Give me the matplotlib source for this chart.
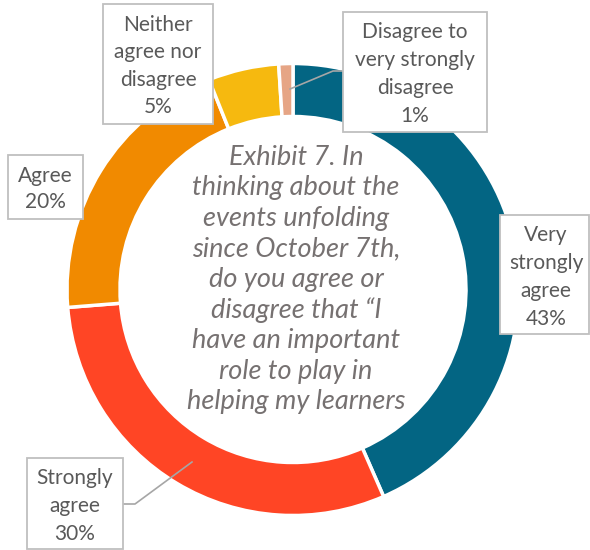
import matplotlib
matplotlib.use("Agg")
import matplotlib.pyplot as plt
from matplotlib.patches import Rectangle

plt.rcParams['font.family'] = ['Lato', 'DejaVu Sans']

# ---- data ----
categories = ["Very strongly agree", "Strongly agree", "Agree",
              "Neither agree nor disagree", "Disagree to very strongly disagree"]
values = [43, 30, 20, 5, 1]
label_wraps = [["Very", "strongly", "agree"],
               ["Strongly", "agree"],
               ["Agree"],
               ["Neither", "agree nor", "disagree"],
               ["Disagree to", "very strongly", "disagree"]]
colors = ["#036583", "#FF4525", "#F18A00", "#F6B90F", "#E6A585"]
center_lines = ["Exhibit 7. In", "thinking about the", "events unfolding",
                "since October 7th,", "do you agree or", "disagree that \u201cI",
                "have an important", "role to play in", "helping my learners"]

W, H = 590, 550
fig = plt.figure(figsize=(W / 100, H / 100), dpi=100)
ax = fig.add_axes([0, 0, 1, 1])

def Y(p):
    return H - p

cx, cy = 293, 289.5
R, ring = 226, 53
ax.pie(values, colors=colors, startangle=90, counterclock=False,
       center=(cx, Y(cy)), radius=R,
       wedgeprops=dict(width=ring, edgecolor="white", linewidth=2.5))
ax.set_xlim(0, W)
ax.set_ylim(0, H)
ax.axis("off")

text_color = "#595959"
box_color = "#BFBFBF"
line_color = "#A6A6A6"

# label layout: (text center x, text center y, line spacing, box x0, y0, x1, y1)
layout = [
    (546, 277, 27.7, 500, 215, 589, 334),
    (75, 506, 27.5, 27, 458, 123, 549),
    (45, 189, 26.0, 8, 155, 83, 219),
    (158, 66, 27.3, 103, 4, 213, 124),
    (415, 74, 27.7, 343, 12, 487, 132),
]

# leader lines
ax.plot([192, 135, 123], [Y(462), Y(504), Y(504)], color=line_color, lw=1.2, zorder=3)
ax.plot([290, 333, 343], [Y(89), Y(71), Y(71)], color=line_color, lw=1.2, zorder=3)

for i, (tx, ty, sp, x0, y0, x1, y1) in enumerate(layout):
    ax.add_patch(Rectangle((x0, Y(y1)), x1 - x0, y1 - y0, facecolor="white",
                           edgecolor=box_color, lw=1.3, zorder=4))
    lines = label_wraps[i] + [f"{values[i]}%"]
    n = len(lines)
    for k, s in enumerate(lines):
        yy = ty + (k - (n - 1) / 2) * sp
        ax.text(tx, Y(yy), s, ha="center", va="center", fontsize=15,
                color=text_color, zorder=5)

# center text
n = len(center_lines)
for k, s in enumerate(center_lines):
    yy = 279.5 + (k - (n - 1) / 2) * 30.6
    ax.text(296, Y(yy), s, ha="center", va="center", fontsize=19.5,
            style="italic", color="#767171", zorder=5)

fig.savefig("out.png", dpi=100)
